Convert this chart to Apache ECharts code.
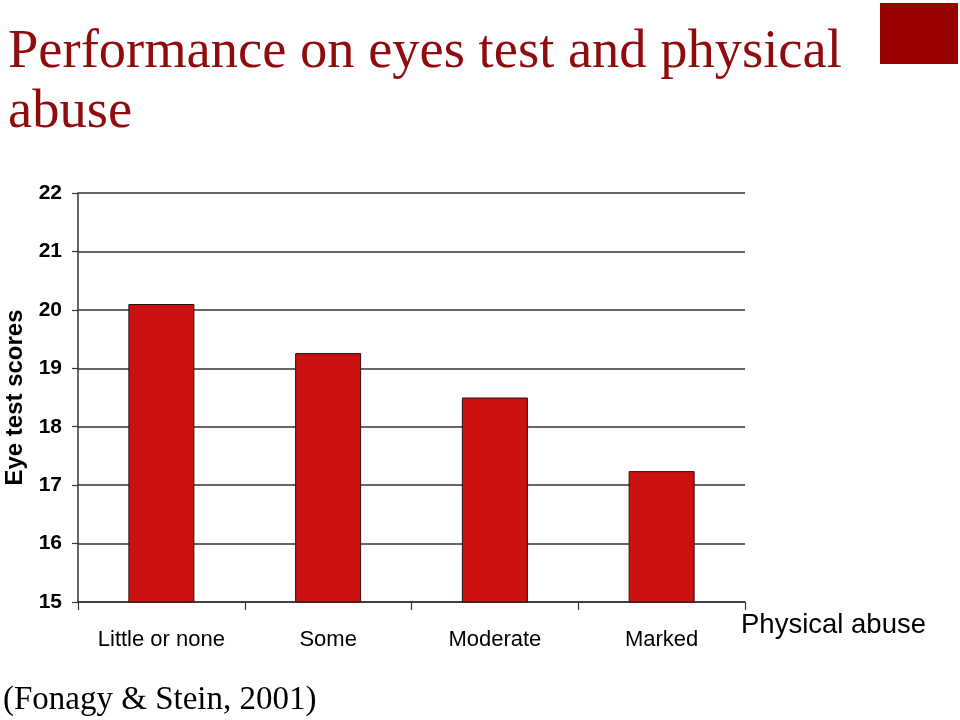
<!DOCTYPE html>
<html>
<head>
<meta charset="utf-8">
<script src="https://cdn.jsdelivr.net/npm/echarts@6/dist/echarts.min.js"></script>
<style>
html,body{margin:0;padding:0;background:#fff;}
#chart{width:960px;height:720px;}
</style>
</head>
<body>
<div id="chart"></div>
<script>
var categories = ['Little or none', 'Some', 'Moderate', 'Marked'];
var scores = [20.1, 19.26, 18.5, 17.24];
var titleLines = ['Performance on eyes test and physical', 'abuse'];
var yAxisName = 'Eye test scores';
var xAxisName = 'Physical abuse';
var citation = '(Fonagy & Stein, 2001)';

var chart = echarts.init(document.getElementById('chart'), null, {renderer: 'canvas'});
chart.setOption({
  backgroundColor: '#ffffff',
  animation: false,
  grid: {left: 78, right: 215, top: 193, bottom: 118, containLabel: false, outerBoundsMode: 'none'},
  xAxis: {
    type: 'category',
    data: categories,
    boundaryGap: true,
    axisLine: {show: true, lineStyle: {color: '#333333', width: 1.5}},
    axisTick: {show: true, length: 8, lineStyle: {color: '#333333', width: 1.2}},
    axisLabel: {
      margin: 27,
      fontFamily: 'Liberation Sans, Arial, sans-serif',
      fontSize: 22,
      color: '#000000'
    }
  },
  yAxis: {
    type: 'value',
    min: 15,
    max: 22,
    interval: 1,
    name: yAxisName,
    nameLocation: 'middle',
    nameRotate: 90,
    nameGap: 50,
    nameTextStyle: {
      fontFamily: 'Liberation Sans, Arial, sans-serif',
      fontSize: 24,
      fontWeight: 'bold',
      color: '#000000'
    },
    axisLine: {show: true, lineStyle: {color: '#333333', width: 1.5}},
    axisTick: {show: true, length: 6, lineStyle: {color: '#333333', width: 1.2}},
    axisLabel: {
      margin: 16,
      fontFamily: 'Liberation Sans, Arial, sans-serif',
      fontSize: 21,
      fontWeight: 'bold',
      color: '#000000'
    },
    splitLine: {show: true, lineStyle: {color: '#333333', width: 1.5}}
  },
  series: [{
    type: 'bar',
    data: scores,
    barWidth: 66,
    itemStyle: {color: '#CC1111', borderColor: '#2a1010', borderWidth: 1}
  }],
  graphic: [
    {
      type: 'text', left: 8, top: 23,
      style: {
        text: titleLines.join('\n'),
        font: '54.5px "Liberation Serif", "Times New Roman", serif',
        fill: '#8E0B0E',
        lineHeight: 60
      }
    },
    {
      type: 'rect', shape: {x: 880, y: 3, width: 78, height: 61},
      style: {fill: '#990000'}
    },
    {
      type: 'text', left: 741, top: 611,
      style: {
        text: xAxisName,
        font: '27.5px "Liberation Sans", Arial, sans-serif',
        fill: '#000000'
      }
    },
    {
      type: 'text', left: 3, top: 684,
      style: {
        text: citation,
        font: '33px "Liberation Serif", "Times New Roman", serif',
        fill: '#000000'
      }
    }
  ]
});
</script>
</body>
</html>
